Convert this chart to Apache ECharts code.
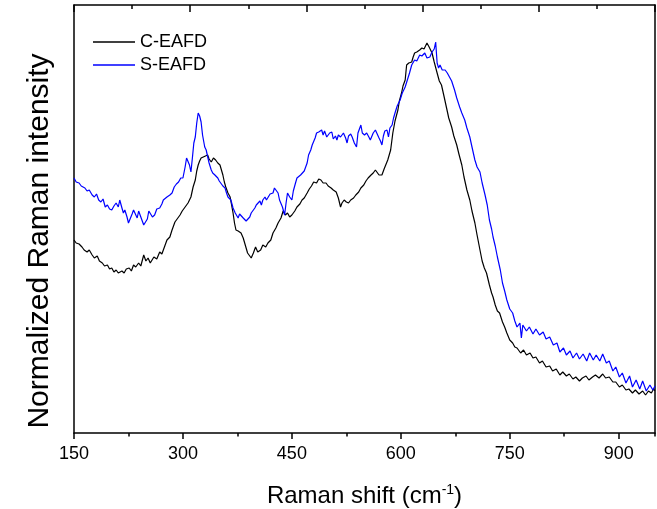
<!DOCTYPE html>
<html>
<head>
<meta charset="utf-8">
<script src="https://cdn.jsdelivr.net/npm/echarts@6/dist/echarts.min.js"></script>
<style>html,body{margin:0;padding:0;background:#fff}#c{width:657px;height:509px}</style>
</head>
<body>
<div id="c"></div>
<script>
// Raman shift (cm-1) and intensity (arbitrary units)
const cX = [150,153,157,159,161,164,168,171,175,178,182,185,189,192,196,199,202,205,208,211,213,216,219,222,226,229,232,235,239,242,246,249,252,255,257,260,264,268,271,275,278,282,285,289,292,296,299,303,307,311,314,317,319,321,323,325,328,331,334,336,339,342,345,348,351,353,355,357,359,362,365,367,369,371,373,376,380,383,385,387,389,391,394,397,400,403,407,410,414,417,421,424,428,431,435,438,441,444,447,450,454,457,461,464,467,471,474,477,480,484,487,490,493,497,500,504,507,511,514,517,519,522,525,528,531,535,538,542,545,549,552,555,559,562,565,567,570,574,577,579,582,584,586,589,592,596,598,601,603,606,608,611,615,617,619,622,626,629,632,636,639,643,646,650,653,656,660,663,666,670,673,677,680,684,687,691,695,698,702,705,709,712,715,718,722,725,727,730,733,736,740,743,746,750,754,757,760,765,769,773,778,782,786,791,795,800,805,809,814,819,823,828,832,837,841,846,850,855,859,864,868,873,878,882,887,892,896,901,905,910,914,919,923,928,933,937,941,945,948,950];
const cY = [193,190,189,191,186,183,181,183,178,175,177,172,170,167,168,164,165,161,163,160,158,162,160,164,165,162,168,166,170,167,178,172,175,170,171,176,174,181,179,187,193,196,203,211,214,218,222,226,230,236,246,253,262,268,272,275,276,277,278,274,271,275,273,270,268,263,258,251,246,240,236,228,220,210,203,202,200,195,190,185,180,178,175,180,186,181,183,188,186,190,193,200,205,210,215,222,218,220,216,218,222,226,229,233,235,240,244,247,251,250,254,253,250,250,247,245,243,241,235,226,230,233,231,230,233,235,238,241,245,248,252,255,258,260,263,261,258,258,264,266,273,278,283,300,312,323,332,340,347,353,368,370,371,376,380,381,383,385,384,390,386,380,371,360,352,348,335,325,315,306,297,288,279,268,256,243,233,222,210,198,183,172,165,160,148,140,136,128,122,120,111,106,100,93,90,86,85,80,83,78,80,75,76,70,72,66,67,62,64,58,61,57,59,54,56,52,55,57,53,56,58,55,59,55,56,51,51,46,48,43,44,40,43,39,42,38,42,40,44,42];
const sX = [150,153,157,160,162,165,168,171,175,178,181,184,187,190,193,196,199,202,205,208,211,213,216,218,220,223,225,227,230,232,234,237,239,241,244,246,248,251,253,255,258,261,264,266,268,271,273,275,278,282,285,288,291,294,297,300,303,305,307,309,311,313,315,317,319,321,323,325,327,330,332,334,336,339,341,344,346,348,350,352,355,358,360,362,364,366,369,372,374,376,378,380,383,385,387,389,392,394,396,399,401,403,406,408,410,413,415,417,420,422,424,426,428,431,433,435,437,440,442,444,447,450,452,455,457,459,462,464,467,469,471,473,476,478,480,482,484,487,489,491,493,495,498,500,502,505,507,510,512,514,517,519,521,524,526,528,531,533,536,539,541,543,545,547,550,553,556,558,560,562,565,567,570,572,574,576,578,581,583,585,588,590,592,595,599,602,606,609,612,615,619,622,626,629,633,636,640,643,646,648,650,652,654,657,661,664,667,670,674,677,681,684,688,691,695,698,702,705,709,712,716,719,722,725,727,730,733,737,740,743,746,750,754,757,760,764,766,768,773,777,782,786,791,796,800,805,810,815,819,824,828,833,837,842,846,851,856,860,865,869,874,878,883,887,892,896,901,905,910,915,919,924,929,933,938,943,947,950];
const sY = [255,251,250,247,249,245,242,243,238,236,239,233,231,234,226,228,224,223,227,230,226,233,225,220,223,216,210,208,219,223,222,215,222,220,212,208,206,214,222,223,216,218,224,222,225,229,233,233,236,238,240,246,249,251,255,255,266,275,275,268,261,275,290,296,310,320,317,311,298,286,283,281,270,263,260,258,256,255,252,250,247,245,240,236,235,233,225,220,218,215,219,220,215,215,212,211,216,220,220,225,228,230,232,228,233,236,233,235,239,238,240,245,246,240,233,233,226,218,230,240,236,233,242,250,255,253,258,258,262,266,270,278,283,288,286,295,300,301,299,303,298,302,296,294,300,301,294,297,293,298,296,296,300,295,290,297,299,296,290,286,300,302,308,300,298,300,296,293,293,300,303,301,295,292,288,297,302,303,296,305,308,315,320,327,333,340,346,353,360,368,373,372,378,377,380,375,376,381,384,391,370,365,368,363,363,360,356,352,343,335,326,320,313,305,296,286,273,266,261,250,238,228,213,204,196,187,176,163,150,142,133,124,120,112,106,110,95,108,102,106,99,104,98,101,94,96,88,90,81,85,78,82,75,80,74,79,72,80,73,78,72,79,70,72,62,66,56,60,50,57,46,53,44,52,42,48,43,47];
const xTicks = [150, 300, 450, 600, 750, 900];

const toPairs = (xs, ys) => xs.map((x, i) => [x, ys[i]]);
const font = 'Liberation Sans, Arial, sans-serif';
const chart = echarts.init(document.getElementById('c'), null, {renderer: 'canvas'});
chart.setOption({
  animation: false,
  backgroundColor: '#fff',
  grid: {left: 74, right: 2, top: 5, bottom: 76, containLabel: false, outerBoundsMode: 'none'},
  legend: {
    orient: 'vertical', left: 88, top: 28, itemWidth: 42, itemHeight: 1.5, itemGap: 5,
    icon: 'rect',
    textStyle: {fontFamily: font, fontSize: 18, color: '#000'}
  },
  graphic: [{
    type: 'text', x: 40, y: 241, rotation: Math.PI / 2,
    style: {text: 'Normalized Raman intensity', fontFamily: font, fontSize: 30, fill: '#000',
      align: 'center', verticalAlign: 'middle'}
  }],
  xAxis: [
    {
      type: 'value', position: 'bottom', min: 150, max: 950, interval: 150,
      axisLine: {show: true, onZero: false, lineStyle: {color: '#000', width: 1.5}},
      axisTick: {show: true, inside: false, length: 6, lineStyle: {color: '#000', width: 1.5}},
      axisLabel: {show: true, showMaxLabel: false, margin: 12, fontFamily: font, fontSize: 18, color: '#000',
        formatter: v => xTicks.includes(v) ? String(v) : ''},
      splitLine: {show: false},
      name: 'Raman shift (cm{sup|-1})', nameLocation: 'middle', nameGap: 50,
      nameTextStyle: {fontFamily: font, fontSize: 24, color: '#000',
        rich: {sup: {fontFamily: font, fontSize: 14, color: '#000', padding: [0, 0, 12, 0]}}}
    },
    {
      type: 'value', position: 'bottom', min: 150, max: 950, interval: 75,
      axisLine: {show: false, onZero: false},
      axisTick: {show: true, inside: false, length: 3.5, lineStyle: {color: '#000', width: 1.5}},
      axisLabel: {show: false}, splitLine: {show: false}
    },
    {
      type: 'value', position: 'top', min: 0, max: 10, interval: 2,
      axisLine: {show: true, onZero: false, lineStyle: {color: '#000', width: 1.5}},
      axisTick: {show: true, inside: true, length: 7, lineStyle: {color: '#000', width: 1.5}},
      minorTick: {show: true, splitNumber: 2, length: 4, lineStyle: {color: '#000', width: 1.5}},
      axisLabel: {show: false}, splitLine: {show: false}
    }
  ],
  yAxis: [
    {
      type: 'value', position: 'left', min: 0, max: 428,
      axisLine: {show: true, onZero: false, lineStyle: {color: '#000', width: 1.5}},
      axisTick: {show: false}, axisLabel: {show: false}, splitLine: {show: false}
    },
    {
      type: 'value', position: 'right', min: 0, max: 428,
      axisLine: {show: true, onZero: false, lineStyle: {color: '#000', width: 1.5}},
      axisTick: {show: false}, axisLabel: {show: false}, splitLine: {show: false}
    }
  ],
  series: [
    {name: 'C-EAFD', type: 'line', xAxisIndex: 0, yAxisIndex: 0, data: toPairs(cX, cY),
      showSymbol: false, symbol: 'none', lineStyle: {color: '#000', width: 1.2}, itemStyle: {color: '#000'}},
    {name: 'S-EAFD', type: 'line', xAxisIndex: 0, yAxisIndex: 0, data: toPairs(sX, sY),
      showSymbol: false, symbol: 'none', lineStyle: {color: '#0000ff', width: 1.2}, itemStyle: {color: '#0000ff'}}
  ]
});
</script>
</body>
</html>
